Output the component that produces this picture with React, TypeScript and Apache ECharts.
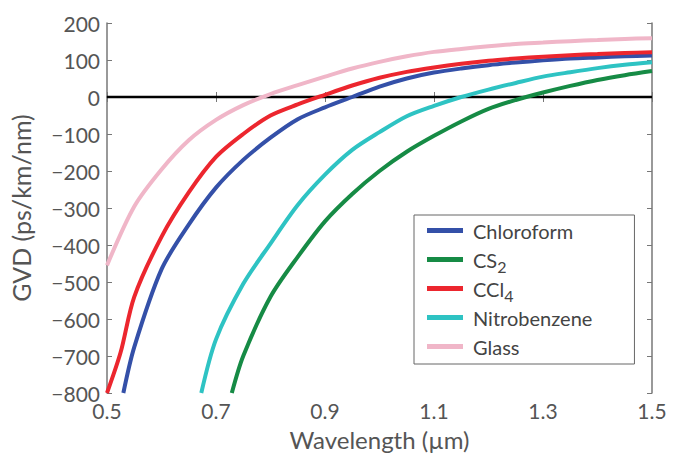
import React, { useEffect, useRef } from "react";
import * as echarts from "echarts";

const xTicks = [0.5, 0.7, 0.9, 1.1, 1.3, 1.5];
const seriesNames = ["Chloroform", "CS2", "CCl4", "Nitrobenzene", "Glass"];
const seriesColors = ["#3450a8", "#168b45", "#ec262e", "#2ec3c3", "#f0b6c8"];

const chloroform = [
  [0.53, -800], [0.55, -676], [0.6, -466], [0.65, -345], [0.7, -245], [0.75, -170],
  [0.8, -110], [0.85, -60], [0.9, -28], [0.95, 0], [1.0, 28], [1.05, 50], [1.1, 66],
  [1.15, 77], [1.2, 86], [1.25, 93], [1.3, 99], [1.35, 104], [1.4, 107], [1.45, 110], [1.5, 112],
];
const cs2 = [
  [0.729, -800], [0.75, -700], [0.8, -540], [0.85, -432], [0.9, -336], [0.95, -262],
  [1.0, -200], [1.05, -148], [1.1, -105], [1.15, -66], [1.2, -32], [1.25, -8], [1.3, 12],
  [1.35, 30], [1.4, 46], [1.45, 59], [1.5, 70],
];
const ccl4 = [
  [0.5, -800], [0.525, -690], [0.55, -540], [0.6, -378], [0.65, -258], [0.7, -162],
  [0.75, -100], [0.8, -50], [0.85, -20], [0.9, 6], [0.95, 31], [1.0, 52], [1.05, 68],
  [1.1, 80], [1.15, 90], [1.2, 98], [1.25, 104], [1.3, 109], [1.35, 113], [1.4, 116],
  [1.45, 119], [1.5, 121],
];
const nitrobenzene = [
  [0.673, -800], [0.7, -655], [0.75, -505], [0.8, -396], [0.85, -292], [0.9, -210],
  [0.95, -143], [1.0, -95], [1.05, -52], [1.1, -24], [1.15, 0], [1.2, 20], [1.25, 38],
  [1.3, 55], [1.35, 67], [1.4, 78], [1.45, 87], [1.5, 94],
];
const glass = [
  [0.5, -455], [0.55, -296], [0.6, -196], [0.65, -117], [0.7, -62], [0.75, -22], [0.8, 8],
  [0.85, 32], [0.9, 55], [0.95, 77], [1.0, 95], [1.05, 110], [1.1, 122], [1.15, 130],
  [1.2, 137], [1.25, 143], [1.3, 147], [1.35, 151], [1.4, 154], [1.45, 157], [1.5, 159],
];
const zeroLine = [[0.5, 0], [1.5, 0]];

const seriesData = [chloroform, cs2, ccl4, nitrobenzene, glass];

const FONT = "Lato, 'Noto Sans', sans-serif";
const AXIS_COLOR = "#777";
const LABEL_COLOR = "#555";

export default function App() {
  const ref = useRef<HTMLDivElement>(null);
  useEffect(() => {
    if (!ref.current) return;
    const chart = echarts.init(ref.current, undefined, { renderer: "svg" });
    const baseX = {
      type: "value",
      min: 0.5,
      max: 1.5,
      splitLine: { show: false },
      axisLine: { show: true, lineStyle: { color: AXIS_COLOR, width: 1.5 } },
      axisTick: { show: true, inside: true, length: 5, customValues: xTicks, lineStyle: { color: AXIS_COLOR } },
    };
    const baseY = {
      type: "value",
      min: -800,
      max: 200,
      interval: 100,
      splitLine: { show: false },
      axisLine: { show: true, lineStyle: { color: AXIS_COLOR, width: 1.5 } },
      axisTick: { show: true, inside: true, length: 5, lineStyle: { color: AXIS_COLOR } },
    };
    chart.setOption({
      animation: false,
      backgroundColor: "#fff",
      grid: { left: 107, right: 27, top: 23, bottom: 60, containLabel: false },
      xAxis: [
        {
          ...baseX,
          position: "bottom",
          name: "Wavelength (\u00b5m)",
          nameLocation: "middle",
          nameGap: 34,
          nameTextStyle: { fontFamily: FONT, fontSize: 24, color: LABEL_COLOR },
          axisLabel: {
            customValues: xTicks,
            margin: 7,
            fontFamily: FONT,
            fontSize: 21,
            color: LABEL_COLOR,
            formatter: (v: number) => v.toFixed(1),
          },
        },
        { ...baseX, position: "top", axisLabel: { show: false } },
      ],
      yAxis: [
        {
          ...baseY,
          position: "left",
          name: "GVD (ps/km/nm)",
          nameLocation: "middle",
          nameGap: 74,
          nameRotate: 90,
          nameTextStyle: { fontFamily: FONT, fontSize: 25, color: LABEL_COLOR },
          axisLabel: {
            margin: 7,
            fontFamily: FONT,
            fontSize: 21,
            color: LABEL_COLOR,
            formatter: (v: number) => (v < 0 ? "\u2212" + Math.abs(v) : String(v)),
          },
        },
        { ...baseY, position: "right", axisLabel: { show: false } },
      ],
      legend: {
        data: seriesNames,
        orient: "vertical",
        left: 414,
        top: 215,
        itemWidth: 36,
        itemHeight: 5,
        itemGap: 0,
        icon: "rect",
        padding: [1, 38, 3, 13],
        backgroundColor: "#fff",
        borderColor: "#666",
        borderWidth: 1,
        borderRadius: 0,
        formatter: (name: string) => {
          const m = name.match(/^(.*?)(\d)$/);
          return m ? `{n|${m[1]}}{sub|${m[2]}}` : `{n|${name}}{sub| }`;
        },
        textStyle: {
          fontFamily: FONT,
          fontSize: 20,
          color: "#444",
          padding: [0, 0, 0, 5],
          rich: {
            n: { fontFamily: FONT, fontSize: 20, color: "#444", lineHeight: 21 },
            sub: { fontFamily: FONT, fontSize: 16, color: "#444", lineHeight: 16, padding: [13, 0, 0, 0] },
          },
        },
      },
      series: [
        {
          name: "zero",
          type: "line",
          data: zeroLine,
          symbol: "none",
          silent: true,
          z: 1,
          lineStyle: { color: "#000", width: 2.5 },
          itemStyle: { color: "#000" },
        },
        ...seriesNames.map((name, i) => ({
          name,
          type: "line",
          data: seriesData[i],
          symbol: "none",
          smooth: 0.3,
          clip: true,
          z: 2 + i,
          lineStyle: { color: seriesColors[i], width: 4 },
          itemStyle: { color: seriesColors[i] },
        })),
      ],
    });
    return () => chart.dispose();
  }, []);
  return (
    <div
      ref={ref}
      style={{ position: "fixed", left: 0, top: 0, width: 679, height: 456 }}
    />
  );
}
